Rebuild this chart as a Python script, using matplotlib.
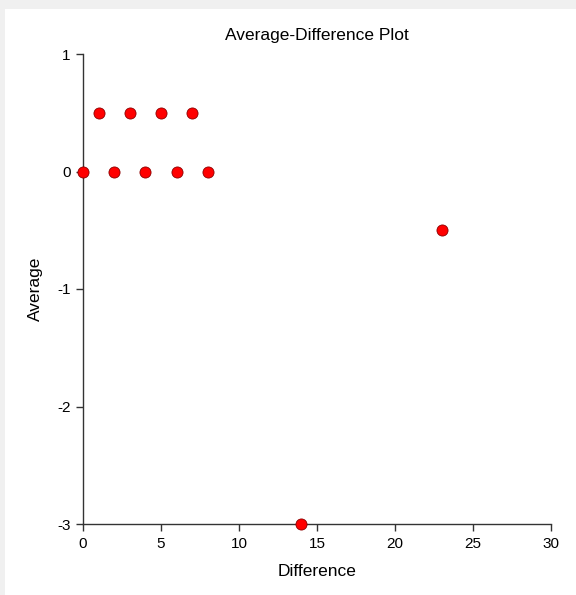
import matplotlib.pyplot as plt
from matplotlib.patches import Rectangle

plt.rcParams['font.family'] = ['Liberation Sans', 'DejaVu Sans']

# data
difference = [0, 1, 2, 3, 4, 5, 6, 7, 8, 23, 14]
average = [0, 0.5, 0, 0.5, 0, 0.5, 0, 0.5, 0, -0.5, -3]

W, H = 576, 595
fig = plt.figure(figsize=(W / 100, H / 100), dpi=100)
fig.patch.set_facecolor('#f0f0f0')
# white panel inside the grey frame, kept behind the axes
panel = Rectangle((5 / W, 0), 1 - 5 / W, 1 - 9 / H,
                  transform=fig.transFigure, facecolor='white',
                  edgecolor='none', zorder=-10)
fig.add_artist(panel)

ax = fig.add_axes([83 / W, 1 - 524 / H, (551 - 83) / W, (524 - 54) / H])
ax.set_facecolor('none')

ax.plot(difference, average, 'o', color='#ff0000', markeredgecolor='#8b0000',
        markeredgewidth=0.6, markersize=8, clip_on=False, zorder=3)

ax.set_xlim(0, 30)
ax.set_ylim(-3, 1)
ax.set_xticks([0, 5, 10, 15, 20, 25, 30])
ax.set_yticks([-3, -2, -1, 0, 1])
ax.set_yticklabels(['-3', '-2', '-1', '0', '1'])

for s in ['top', 'right']:
    ax.spines[s].set_visible(False)
for s in ['left', 'bottom']:
    ax.spines[s].set_color('#333333')
    ax.spines[s].set_linewidth(1.0)

ax.tick_params(direction='out', length=5, width=1, color='#333333',
               labelsize=11, pad=4)

ax.set_title('Average-Difference Plot', fontsize=12.5, pad=10)
ax.set_xlabel('Difference', fontsize=12.5, labelpad=10)
ax.set_ylabel('Average', fontsize=12.5, labelpad=10)

fig.savefig('out.png', dpi=100, facecolor=fig.get_facecolor())
